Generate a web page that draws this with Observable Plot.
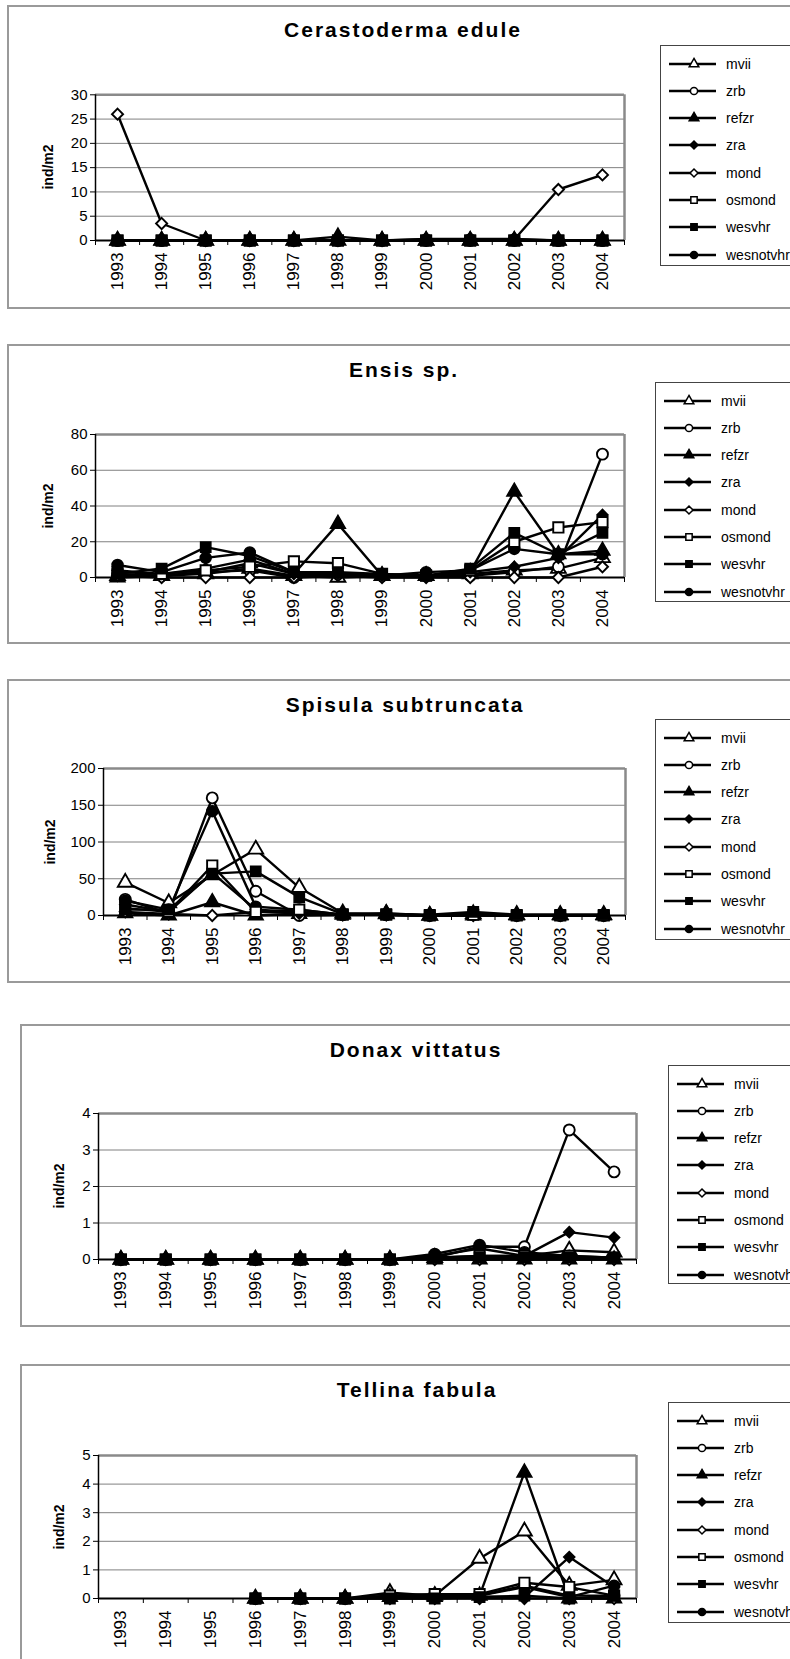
<!DOCTYPE html>
<html><head><meta charset="utf-8">
<script src="https://cdn.jsdelivr.net/npm/d3@7"></script>
<script src="https://cdn.jsdelivr.net/npm/@observablehq/plot@0.6"></script>
<style>
html,body{margin:0;padding:0;background:#fff;}
body{width:790px;height:1659px;position:relative;overflow:hidden;font-family:"Liberation Sans",Arial,sans-serif;color:#000;}
.frame{position:absolute;border:2px solid #9a9a9a;box-sizing:border-box;background:#fff;}
.title{position:absolute;font-weight:bold;font-size:21px;letter-spacing:2px;transform:translate(-50%,-50%);white-space:nowrap;}
.ytitle{position:absolute;font-weight:bold;font-size:14px;transform:translate(-50%,-50%) rotate(-90deg);white-space:nowrap;}
.legend{position:absolute;border:1px solid #444;background:#fff;box-sizing:border-box;width:200px;}
.legend .row{position:absolute;left:0;height:20px;display:flex;align-items:center;white-space:nowrap;font-size:14px;}
.plotbox{position:absolute;left:0;}
</style></head><body>
<script>
// ---- categories ----
const years = [1993,1994,1995,1996,1997,1998,1999,2000,2001,2002,2003,2004];
const series = ["mvii","zrb","refzr","zra","mond","osmond","wesvhr","wesnotvhr"];
const seriesSymbols = ["triangle","circle","triangle","diamond2","diamond2","square","square","circle"];
const seriesFilled = [false,false,true,true,false,false,true,true];

// ---- values (ind/m2), one row per series in the order of `series` ----
const cerastoderma = [
  [0,0,0,0,0,0,0,0,0,0,0,0],
  [0,0,0,0,0,0,0,0,0,0,0,0],
  [0,0,0,0,0,0.8,0,0,0,0,0,0],
  [0,0,0,0,0,0,0,0.3,0.3,0.3,0,0],
  [26,3.5,0,0,0,0,0,0.1,0.1,0.2,10.5,13.5],
  [0,0,0,0,0,0,0,0,0,0,0,0],
  [0,0,0,0,0,0,0,0,0,0,0,0],
  [0,0,0,0,0,0,0,0.2,0.2,0.2,0,0]
];
const ensis = [
  [1,1,2,5,1,0,1,1,2,4,5,11],
  [2,1,3,4,0,2,1,1,1,3,6,69],
  [0,1,3,8,2,30,1,1,3,48,13,15],
  [4,2,5,10,2,2,1,1,3,6,11,35],
  [1,0,0,0,0,1,0,0,0,0,0,6],
  [3,2,4,6,9,8,2,1,4,20,28,31],
  [2,5,17,12,3,3,2,1,5,25,13,25],
  [7,3,11,14,3,2,1,3,4,16,13,13]
];
const spisula = [
  [45,17,55,90,38,3,2,0,2,1,1,1],
  [22,3,160,33,0,1,1,0,1,0,0,0],
  [3,0,18,0,2,1,3,0,0,0,0,0],
  [15,5,58,8,5,1,1,0,1,0,0,0],
  [5,2,0,5,3,1,1,0,0,0,0,0],
  [10,5,68,5,8,1,1,0,1,0,0,0],
  [8,8,57,60,25,2,2,1,5,1,1,1],
  [20,8,142,12,8,1,1,0,1,0,0,0]
];
const donax = [
  [0,0,0,0,0,0,0,0.05,0.1,0.1,0.25,0.2],
  [0,0,0,0,0,0,0,0.05,0.35,0.35,3.55,2.4],
  [0,0,0,0,0,0,0,0,0,0,0,0],
  [0,0,0,0,0,0,0,0.1,0.3,0.1,0.75,0.6],
  [0,0,0,0,0,0,0,0,0,0,0,0],
  [0,0,0,0,0,0,0,0.05,0.1,0.1,0.1,0.05],
  [0,0,0,0,0,0,0,0.05,0.05,0.05,0.05,0.05],
  [0,0,0,0,0,0,0,0.15,0.4,0.2,0.1,0.05]
];
const tellina = [
  [null,null,null,0,0,0,0.2,0.1,1.4,2.35,0.45,0.65],
  [null,null,null,0,0,0,0.05,0.1,0.1,0.45,0.1,0.1],
  [null,null,null,0,0,0,0.05,0.05,0.1,4.4,0,0],
  [null,null,null,0,0,0,0.05,0.05,0.05,0.05,1.45,0.4],
  [null,null,null,0,0,0,0,0,0,0,0,0],
  [null,null,null,0,0,0,0.1,0.15,0.15,0.55,0.4,0.1],
  [null,null,null,0,0,0,0,0,0.05,0.1,0,0.1],
  [null,null,null,0,0,0,0.1,0.15,0.1,0.4,0.05,0.45]
];
const titles = ["Cerastoderma edule","Ensis sp.","Spisula subtruncata","Donax vittatus","Tellina fabula"];
const yMax = [30,80,200,4,5];
const yStep = [5,20,50,1,1];
const yLabel = "ind/m2";

// ---- layout (pixels) ----
const panels = [
  {frame:[7,5,309], plot:[95,624,94.3,240], title:[403,30], ytx:48, legend:[660,45,221]},
  {frame:[7,344,644], plot:[95,624,434,577], title:[404,370], ytx:48, legend:[655,382,220]},
  {frame:[7,679,983], plot:[103,625,768,915], title:[405,705], ytx:50, legend:[655,719,221]},
  {frame:[20,1024,1327], plot:[98,636,1113,1259], title:[416,1050], ytx:59, legend:[668,1065,219]},
  {frame:[20,1364,1700], plot:[98,636,1455,1598], title:[417,1390], ytx:59, legend:[668,1402,221]}
];
const datasets = [cerastoderma, ensis, spisula, donax, tellina];
const symbolR = {triangle: 5.5, circle: 5.5, diamond2: 5, square: 5.8};

function el(tag, cls, style, text){
  const e = document.createElement(tag);
  if (cls) e.className = cls;
  Object.assign(e.style, style||{});
  if (text!=null) e.textContent = text;
  document.body.appendChild(e);
  return e;
}

function legendSymbol(i){
  const svg = d3.create("svg").attr("width",58).attr("height",20);
  svg.append("line").attr("x1",8).attr("x2",55).attr("y1",10).attr("y2",10).attr("stroke","black").attr("stroke-width",2.5);
  const typeMap = {triangle:d3.symbolTriangle, circle:d3.symbolCircle, diamond2:d3.symbolDiamond2, square:d3.symbolSquare};
  svg.append("path").attr("transform","translate(33,10)")
    .attr("d", d3.symbol(typeMap[seriesSymbols[i]], 40)())
    .attr("fill", seriesFilled[i] ? "black" : "white").attr("stroke","black").attr("stroke-width",1.5);
  return svg.node();
}

panels.forEach((p, k) => {
  const [fl, ft, fb] = p.frame;
  el("div","frame",{left:fl+"px", top:ft+"px", width:(800-fl)+"px", height:(fb-ft)+"px"});
  el("div","title",{left:p.title[0]+"px", top:p.title[1]+"px"}, titles[k]);

  const [pl, pr, pt, pb] = p.plot;
  const svgTop = Math.round(pt) - 20;
  const W = pr + 20, H = Math.round(pb) + 60 - svgTop;
  const rows = [];
  datasets[k].forEach((vals, i) => vals.forEach((v, j) => {
    if (v != null) rows.push({series: series[i], year: years[j], value: v, filled: seriesFilled[i], sym: seriesSymbols[i]});
  }));
  const grid = d3.range(yStep[k], yMax[k] - 1e-9, yStep[k]);
  const dotMarks = [];
  for (const sym of ["triangle","circle","diamond2","square"]) {
    for (const filled of [false, true]) {
      const sub = rows.filter(d => d.sym === sym && d.filled === filled);
      if (sub.length) dotMarks.push(Plot.dot(sub, {x: "year", y: "value", symbol: "series", fill: filled ? "black" : "white", stroke: "black", strokeWidth: filled ? 1.5 : 1.9, r: symbolR[sym]}));
    }
  }
  const chart = Plot.plot({
    width: W, height: H,
    marginLeft: pl, marginRight: W - pr, marginTop: pt - svgTop, marginBottom: svgTop + H - pb,
    x: {type: "linear", domain: [1992.5, 2004.5]},
    y: {domain: [0, yMax[k]]},
    symbol: {domain: series, range: seriesSymbols},
    style: {fontFamily: '"Liberation Sans", Arial, sans-serif', fontSize: "15px", background: "transparent", overflow: "visible", color: "black"},
    marks: [
      Plot.ruleY(grid, {stroke: "#808080", strokeWidth: 1}),
      Plot.ruleY([yMax[k]], {stroke: "#8a8a8a", strokeWidth: 2.5}),
      Plot.ruleX([2004.5], {stroke: "#8a8a8a", strokeWidth: 2.5}),
      Plot.axisY({ticks: d3.range(0, yMax[k] + 1e-9, yStep[k]), tickSize: 5, tickPadding: 3, tickFormat: d => String(d), label: null, fontSize: 15}),
      Plot.axisX({ticks: d3.range(1992.5, 2005, 1), tickSize: 5, tickFormat: () => "", label: null}),
      Plot.text(years, {x: d => d, y: 0, text: d => String(d), rotate: -90, textAnchor: "end", lineAnchor: "middle", dy: 12, fontSize: 17, fill: "black"}),
      Plot.ruleX([1992.5], {stroke: "black", strokeWidth: 1.5}),
      Plot.ruleY([0], {stroke: "black", strokeWidth: 2}),
      Plot.line(rows, {x: "year", y: "value", z: "series", stroke: "black", strokeWidth: 2.4}),
      ...dotMarks
    ]
  });
  const box = el("div","plotbox",{top: svgTop + "px"});
  box.appendChild(chart);

  el("div","ytitle",{left:p.ytx+"px", top:((pt+pb)/2)+"px"}, yLabel);

  const [ll, lt, lh] = p.legend;
  const lg = el("div","legend",{left:ll+"px", top:lt+"px", height:lh+"px"});
  series.forEach((s, i) => {
    const row = document.createElement("div");
    row.className = "row";
    row.style.top = (17.5 + i * 27.3 - 10) + "px";
    row.appendChild(legendSymbol(i));
    const t = document.createElement("span");
    t.textContent = s;
    t.style.marginLeft = "7px";
    row.appendChild(t);
    lg.appendChild(row);
  });
});
</script>
</body></html>
